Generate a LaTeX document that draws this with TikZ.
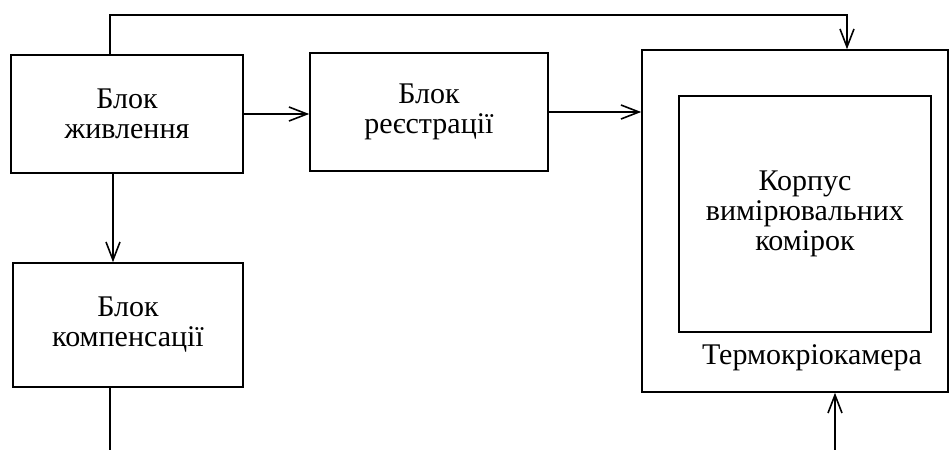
\documentclass[tikz,border=0pt]{standalone}
\usepackage{fontspec}
\setmainfont{Liberation Serif}
\usetikzlibrary{positioning,arrows.meta}

\tikzset{
  blok/.style={draw, rectangle, line width=0.8pt, align=center, inner sep=0pt,
    font=\fontsize{15}{15}\selectfont},
  strilka/.style={line width=0.8pt, -{Straight Barb[length=9pt, width=7pt]}},
  liniya/.style={line width=0.8pt}
}

\begin{document}
\begin{tikzpicture}[x=0.5pt, y=-0.5pt]
    \useasboundingbox (0,0) rectangle (950,450);

    \node[blok, minimum width=116pt, minimum height=59pt] (zhyv) at (127,114) {Блок\\живлення};
    \node[blok, minimum width=119pt, minimum height=59pt] (reestr) at (429,112) {Блок\\реєстрації};
    \node[blok, minimum width=115pt, minimum height=62pt] (komp) at (128,325) {Блок\\компенсації};
    \node[blok, minimum width=153pt, minimum height=171pt] (termo) at (795,221) {};
    \node[blok, minimum width=126pt, minimum height=118pt] (korpus) at (805,214) {Корпус\\вимірювальних\\комірок};
    \node[font=\fontsize{15}{15}\selectfont] (termolab) at (812,358) {Термокріокамера};

    % free ends of the lines
    \coordinate (topl) at (110,15);
    \coordinate (topr) at (847,15);
    \coordinate (kout) at (110,450);
    \coordinate (tin) at (835,450);

    \draw[strilka] (zhyv.north -| topl) |- (topr) -- (topr |- termo.north);
    \draw[strilka] (zhyv.east) -- (zhyv.east -| reestr.west);
    \draw[strilka] (reestr.east) -- (reestr.east -| termo.west);
    \draw[strilka] ([xshift=-7pt]zhyv.south) -- ([xshift=-7pt]zhyv.south |- komp.north);
    \draw[liniya] (komp.south -| kout) -- (kout);
    \draw[strilka] (tin) -- (tin |- termo.south);
\end{tikzpicture}
\end{document}
